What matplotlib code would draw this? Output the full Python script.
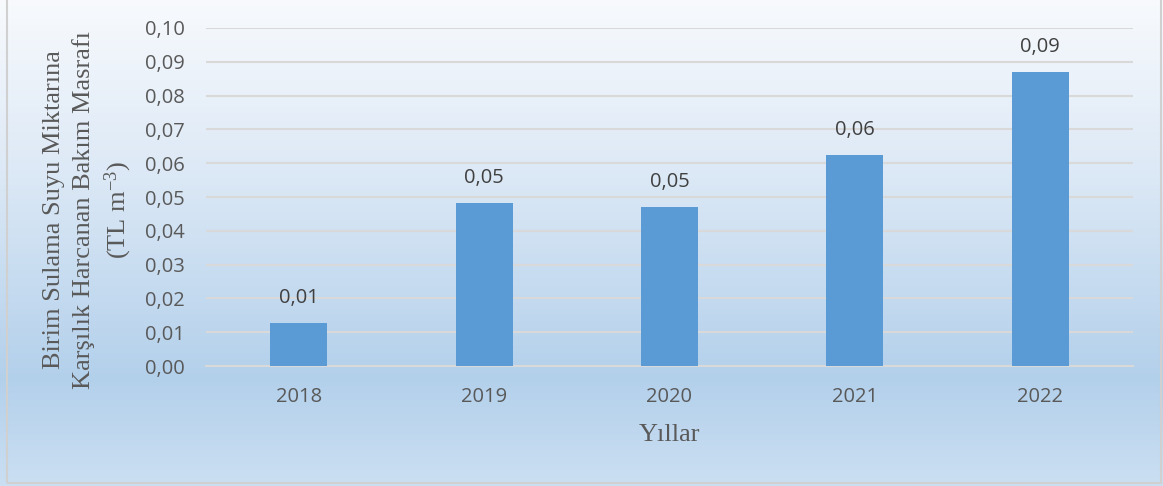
import matplotlib
matplotlib.use("Agg")
import matplotlib.pyplot as plt
import numpy as np
from matplotlib.colors import LinearSegmentedColormap
from matplotlib.patches import Rectangle
from matplotlib.ticker import FuncFormatter

years = ["2018", "2019", "2020", "2021", "2022"]
values = [0.0127, 0.0482, 0.0470, 0.0624, 0.0870]
yticks = [0.00, 0.01, 0.02, 0.03, 0.04, 0.05, 0.06, 0.07, 0.08, 0.09, 0.10]

plt.rcParams['mathtext.default'] = 'regular'

fig = plt.figure(figsize=(11.63, 4.86), dpi=100)

# background gradient (white at top -> light blue)
bg = fig.add_axes([0, 0, 1, 1], zorder=0)
cmap = LinearSegmentedColormap.from_list(
    "bg", [(0.0, "#f8fafd"), (0.35, "#dde9f6"), (0.78, "#b3d0eb"), (1.0, "#cbdff2")])
grad = np.linspace(0, 1, 256).reshape(-1, 1)
bg.imshow(grad, aspect="auto", cmap=cmap, extent=[0, 1, 0, 1], origin="upper")
bg.set_xlim(0, 1)
bg.set_ylim(0, 1)
bg.axis("off")
bg.add_patch(Rectangle((0.006, 0.006), 0.992, 1.2, fill=False,
                       edgecolor="#d0d0d0", linewidth=1.5, transform=bg.transAxes))

ax = fig.add_axes([0.1771, 0.2469, 0.7971, 0.6955], zorder=1)
ax.patch.set_alpha(0)

x = np.arange(len(years))
bars = ax.bar(x, values, width=0.307, color="#5b9bd5", zorder=3)

for xi, v in zip(x, values):
    ax.annotate(f"{v:.2f}".replace(".", ","), (xi, v), xytext=(0, 11),
                textcoords="offset points", ha="center", va="bottom",
                fontsize=14.5, family="Open Sans", color="#404040")

ax.set_xlim(-0.5, len(years) - 0.5)
ax.set_ylim(0, 0.10)
ax.set_yticks(yticks)
ax.yaxis.set_major_formatter(FuncFormatter(lambda v, p: f"{v:.2f}".replace(".", ",")))
ax.set_xticks(x)
ax.set_xticklabels(years)
ax.grid(axis="y", color="#d9d9d9", linewidth=1.5, zorder=0)
ax.set_axisbelow(True)
for s in ["top", "right", "left"]:
    ax.spines[s].set_visible(False)
ax.spines["bottom"].set_color("#d9d9d9")
ax.spines["bottom"].set_linewidth(1.5)
ax.tick_params(axis="both", length=0, labelsize=14.5, labelcolor="#595959", pad=15)
for lbl in ax.get_xticklabels() + ax.get_yticklabels():
    lbl.set_family("Open Sans")

fig.text(0.0762, 0.568,
         "Birim Sulama Suyu Miktarına\nKarşılık Harcanan Bakım Masrafı\n(TL m$^{-3}$)",
         rotation=90, ha="center", va="center", multialignment="center",
         family="Liberation Serif", fontsize=19, color="#595959", linespacing=1.35)
fig.text(0.576, 0.105, "Yıllar", ha="center", va="center",
         family="Liberation Serif", fontsize=19, color="#595959")

fig.savefig("out.png", dpi=100)
